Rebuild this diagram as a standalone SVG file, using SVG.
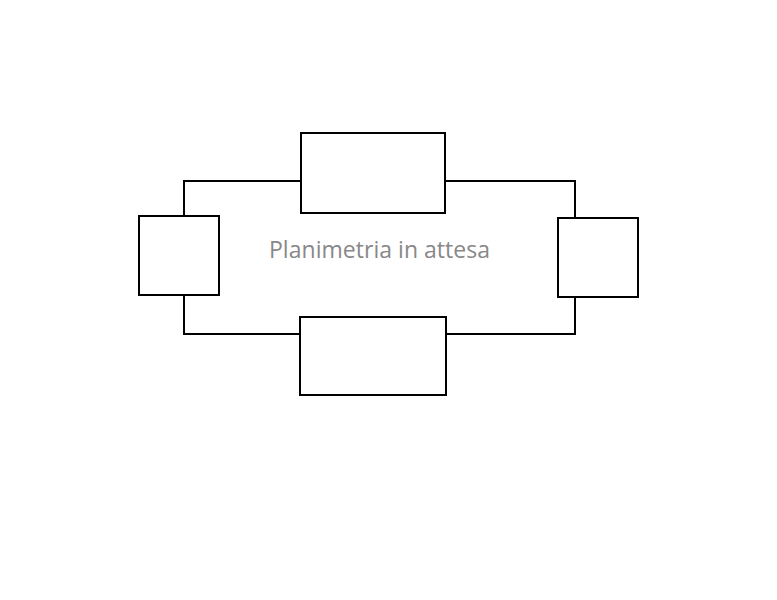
<svg xmlns="http://www.w3.org/2000/svg" width="777" height="600" viewBox="0 0 777 600">
<style>.b{fill:#fff;stroke:#000;stroke-width:2}.c{fill:none;stroke:#000;stroke-width:2}</style>
<rect width="777" height="600" fill="#fff"/>
<g id="connectors">
<polyline class="c" points="184,216 184,181 301,181"/>
<polyline class="c" points="445,181 575,181 575,218"/>
<polyline class="c" points="184,295 184,334 301,334"/>
<polyline class="c" points="446,334 575,334 575,297"/>
</g>
<g id="top"><rect class="b" x="301" y="133" width="144" height="80"/></g>
<g id="bottom"><rect class="b" x="300" y="317" width="146" height="78"/></g>
<g id="left"><rect class="b" x="139" y="216" width="80" height="79"/></g>
<g id="right"><rect class="b" x="558" y="218" width="80" height="79"/></g>
<text x="379.5" y="258" text-anchor="middle" font-family="Open Sans, sans-serif" font-size="23" textLength="221" fill="#888">Planimetria in attesa</text>
</svg>
